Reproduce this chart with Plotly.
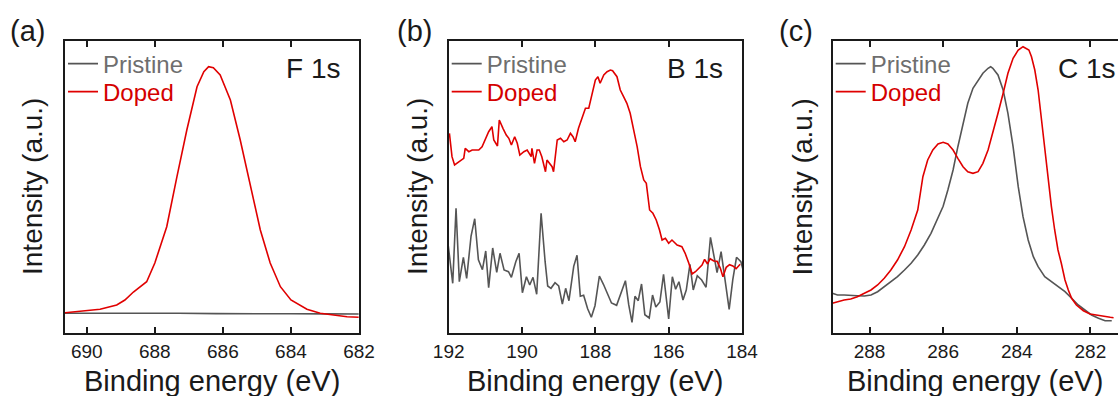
import plotly.graph_objects as go

# ---------------- data ----------------
# (a) F 1s
f1s_doped_e = [690.64, 690.0, 689.61, 689.12, 688.88, 688.63, 688.24, 688.0, 687.65, 687.35,
               687.06, 686.76, 686.56, 686.42, 686.28, 686.08, 685.78, 685.49, 685.19, 684.90,
               684.61, 684.31, 684.0, 683.53, 683.14, 682.75, 682.35, 682.01]
f1s_doped_i = [20.3, 22.0, 23.7, 28.0, 33.0, 41.0, 51.3, 70.0, 106.3, 156.3,
               203.0, 246.3, 261.3, 266.3, 265.3, 258.0, 233.0, 193.0, 146.3, 103.0,
               70.0, 46.3, 33.0, 23.7, 19.7, 18.0, 16.3, 15.7]
f1s_pristine_e = [690.64, 689.5, 688.4, 687.3, 686.2, 685.1, 684.0, 683.0, 682.01]
f1s_pristine_i = [19.7, 19.9, 19.5, 19.8, 19.4, 19.6, 19.2, 19.1, 19.0]

# (b) B 1s
b1s_doped_e = [191.98, 191.91, 191.84, 191.73, 191.59, 191.55, 191.45, 191.36, 191.27, 191.18,
               191.09, 191.0, 190.91, 190.82, 190.77, 190.67, 190.62, 190.52, 190.43, 190.36,
               190.29, 190.2, 190.13, 190.06, 189.95, 189.86, 189.75, 189.73, 189.66, 189.59,
               189.53, 189.46, 189.36, 189.32, 189.18, 189.14, 189.04, 188.95, 188.86, 188.77,
               188.68, 188.61, 188.55, 188.46, 188.36, 188.27, 188.18, 188.09, 188.0, 187.93,
               187.87, 187.77, 187.68, 187.59, 187.53, 187.41, 187.32, 187.23, 187.14, 187.05,
               186.95, 186.86, 186.77, 186.68, 186.61, 186.52, 186.43, 186.34, 186.25, 186.18,
               186.09, 186.0, 185.91, 185.77, 185.64, 185.55, 185.45, 185.36, 185.27, 185.18,
               185.09, 185.02, 184.94, 184.87, 184.77, 184.68, 184.59, 184.52, 184.43, 184.34,
               184.25, 184.16, 184.05]
b1s_doped_i = [199.7, 176.3, 168.0, 171.3, 174.7, 184.7, 181.3, 183.0, 183.0, 183.0,
               186.3, 193.0, 201.3, 206.3, 193.0, 187.0, 213.0, 204.7, 198.0, 194.7,
               188.0, 196.3, 189.7, 178.0, 181.3, 183.0, 176.3, 184.7, 169.7, 183.0,
               183.0, 176.3, 161.3, 173.0, 166.3, 161.3, 193.0, 194.7, 191.3, 193.0,
               199.7, 196.3, 191.3, 204.7, 216.3, 224.7, 224.7, 238.0, 253.0, 256.3,
               249.7, 258.0, 261.3, 263.0, 262.3, 256.3, 243.0, 236.3, 229.7, 219.7,
               203.0, 186.3, 166.3, 153.0, 149.7, 123.0, 119.7, 113.0, 103.0, 93.0,
               94.7, 89.7, 93.0, 88.0, 86.3, 79.7, 69.7, 59.0, 61.3, 64.7,
               68.0, 73.7, 69.0, 74.3, 72.0, 71.7, 64.7, 56.3, 65.7, 68.3,
               67.0, 64.3, 68.7]
b1s_pristine_e = [192.02, 191.89, 191.8, 191.71, 191.6, 191.51, 191.39, 191.29, 191.19, 191.08,
                  190.99, 190.91, 190.8, 190.69, 190.6, 190.49, 190.37, 190.29, 190.17, 190.08,
                  189.99, 189.88, 189.79, 189.7, 189.6, 189.48, 189.37, 189.3, 189.21, 189.1,
                  189.0, 188.9, 188.81, 188.72, 188.59, 188.5, 188.41, 188.32, 188.21, 188.11,
                  188.01, 187.89, 187.78, 187.67, 187.56, 187.42, 187.29, 187.18, 187.09, 187.0,
                  186.92, 186.83, 186.74, 186.65, 186.53, 186.44, 186.35, 186.24, 186.14, 186.0,
                  185.9, 185.81, 185.72, 185.61, 185.52, 185.42, 185.33, 185.22, 185.1, 184.98,
                  184.86, 184.68, 184.57, 184.46, 184.35, 184.25, 184.15, 184.03, 183.94, 183.86,
                  183.78]
b1s_pristine_i = [89.7, 49.7, 124.7, 51.3, 75.7, 54.7, 97.0, 114.3, 73.3, 63.3,
                  82.0, 45.3, 85.0, 60.7, 79.7, 63.0, 61.3, 55.7, 71.3, 79.7,
                  40.3, 56.3, 48.0, 55.7, 38.7, 119.7, 71.3, 47.0, 44.7, 50.3,
                  47.0, 29.0, 44.7, 32.3, 66.7, 77.7, 36.7, 37.7, 24.3, 15.7,
                  27.3, 57.0, 48.7, 40.0, 30.0, 27.7, 41.0, 52.3, 28.3, 10.7,
                  36.7, 32.3, 49.0, 18.3, 15.0, 38.0, 26.0, 31.0, 58.7, 14.0,
                  56.3, 43.7, 51.3, 33.0, 43.0, 68.7, 43.0, 57.3, 53.0, 45.7,
                  95.7, 60.3, 81.3, 49.7, 23.7, 53.7, 75.7, 71.3, 58.7, 59.3,
                  59.0]

# (c) C 1s
c1s_pristine_e = [289.01, 288.87, 288.69, 288.51, 288.33, 288.14, 287.96, 287.78, 287.60, 287.42,
                  287.24, 287.05, 286.87, 286.69, 286.51, 286.33, 286.14, 286.0, 285.87, 285.73,
                  285.60, 285.46, 285.33, 285.19, 285.05, 284.92, 284.78, 284.71, 284.65, 284.51,
                  284.37, 284.24, 284.10, 283.96, 283.83, 283.69, 283.55, 283.42, 283.24, 283.06,
                  282.88, 282.69, 282.51, 282.33, 282.15, 281.97, 281.78, 281.60, 281.42]
c1s_pristine_i = [39.7, 38.0, 38.0, 38.0, 37.3, 37.0, 38.0, 41.3, 46.3, 51.3,
                  56.3, 63.0, 69.7, 78.0, 88.0, 99.7, 116.3, 126.7, 143.3, 163.0,
                  186.3, 209.7, 229.7, 244.7, 253.0, 259.7, 264.7, 266.3, 264.7, 258.0,
                  243.0, 219.7, 186.3, 146.3, 116.3, 93.0, 76.3, 66.3, 56.3, 51.3,
                  46.3, 41.3, 34.7, 28.0, 23.0, 18.0, 14.7, 12.3, 12.3]
c1s_doped_e = [289.01, 288.87, 288.69, 288.51, 288.33, 288.14, 287.96, 287.78, 287.60, 287.42,
               287.24, 287.05, 286.87, 286.69, 286.55, 286.42, 286.28, 286.14, 286.0, 285.87,
               285.73, 285.60, 285.46, 285.33, 285.19, 285.05, 284.92, 284.78, 284.65, 284.51,
               284.37, 284.24, 284.10, 283.96, 283.83, 283.74, 283.67, 283.60, 283.51, 283.42,
               283.33, 283.24, 283.15, 283.06, 282.97, 282.88, 282.79, 282.69, 282.60, 282.51,
               282.38, 282.19, 282.01, 281.83, 281.65, 281.46, 281.37]
c1s_doped_i = [29.7, 31.3, 33.0, 34.0, 36.3, 39.7, 43.0, 48.0, 54.7, 63.0,
               73.0, 86.3, 103.0, 123.0, 156.3, 173.0, 183.0, 189.0, 190.7, 189.0,
               183.0, 174.7, 166.3, 161.3, 159.7, 161.3, 169.7, 183.0, 199.7, 219.7,
               239.7, 259.7, 274.7, 283.0, 286.3, 284.7, 283.0, 276.3, 263.0, 243.0,
               213.0, 183.0, 153.0, 126.7, 103.0, 83.0, 69.7, 53.0, 43.0, 34.7,
               28.0, 22.3, 19.0, 17.7, 16.7, 15.7, 15.3]

panel_labels = ["(a)", "(b)", "(c)"]
core_levels = ["F 1s", "B 1s", "C 1s"]
series_names = ["Pristine", "Doped"]
x_ranges = [[690.64, 682.0], [192.0, 184.0], [289.0, 281.25]]
tick_vals = [[690, 688, 686, 684, 682], [192, 190, 188, 186, 184], [288, 286, 284, 282]]
x_title = "Binding energy (eV)"
y_title = "Intensity (a.u.)"

# ---------------- styling ----------------
W, H = 1118, 396
FONT = "Arial, Liberation Sans, sans-serif"
GRAY, RED = "#555555", "#e00000"
GRAY_TXT, RED_TXT = "#6e6e6e", "#d40000"

boxes = [(65, 359), (448.7, 742), (832.7, 1118)]
top_px, bot_px = 41, 333
ydom = [(H - bot_px) / H, (H - top_px) / H]

fig = go.Figure()

data = [
    (f1s_pristine_e, f1s_pristine_i, f1s_doped_e, f1s_doped_i),
    (b1s_pristine_e, b1s_pristine_i, b1s_doped_e, b1s_doped_i),
    (c1s_pristine_e, c1s_pristine_i, c1s_doped_e, c1s_doped_i),
]

layout = dict(
    width=W, height=H,
    margin=dict(l=0, r=0, t=0, b=0, autoexpand=False),
    paper_bgcolor="white", plot_bgcolor="white",
    font=dict(family=FONT, color="#1a1a1a"),
    showlegend=True,
)

annotations = []
for k, (pe, pi, de, di) in enumerate(data):
    sfx = "" if k == 0 else str(k + 1)
    xa, ya = "x" + sfx, "y" + sfx
    l, r = boxes[k]
    # one legend per legend entry so the rows can be placed like the reference
    leg_p = "legend" if k == 0 else f"legend{2 * k + 1}"
    leg_d = f"legend{2 * k + 2}"
    fig.add_trace(go.Scatter(
        x=pe, y=pi, mode="lines", xaxis=xa, yaxis=ya, legend=leg_p,
        line=dict(color=GRAY, width=1.6),
        name=f"<span style='color:{GRAY_TXT}'>{series_names[0]}</span>"))
    fig.add_trace(go.Scatter(
        x=de, y=di, mode="lines", xaxis=xa, yaxis=ya, legend=leg_d,
        line=dict(color=RED, width=1.6),
        name=f"<span style='color:{RED_TXT}'>{series_names[1]}</span>"))

    layout[f"xaxis{sfx}"] = dict(
        domain=[l / W, min(r / W, 1.0)], range=x_ranges[k], anchor=ya,
        tickvals=tick_vals[k], ticks="inside", ticklen=6, tickwidth=2, tickcolor="#1a1a1a",
        showline=True, linecolor="#1a1a1a", linewidth=2, mirror="ticks",
        showgrid=False, zeroline=False, automargin=False,
        tickfont=dict(size=19, family=FONT, color="#1a1a1a"),
    )
    layout[f"yaxis{sfx}"] = dict(
        domain=ydom, range=[0, 292], anchor=xa,
        showticklabels=False, ticks="", showgrid=False, zeroline=False, automargin=False,
        showline=True, linecolor="#1a1a1a", linewidth=2, mirror=(k < 2),
    )
    for leg, ypx in ((leg_p, 64), (leg_d, 92)):
        layout[leg] = dict(
            x=(l - 2) / W, y=(H - ypx) / H, xanchor="left", yanchor="middle",
            bgcolor="rgba(0,0,0,0)", borderwidth=0,
            font=dict(size=24, family=FONT), tracegroupgap=0, itemwidth=30,
        )
    xc = (l + r) / 2 if k < 2 else (l + 1118) / 2
    annotations.append(dict(
        text=x_title, xref="paper", yref="paper", x=xc / W,
        y=(H - 381) / H, xanchor="center", yanchor="middle", showarrow=False,
        font=dict(size=29, family=FONT, color="#1a1a1a")))
    ycx = [32, 417, 801.5][k]
    annotations.append(dict(
        text=y_title, xref="paper", yref="paper", x=ycx / W, y=(H - 187) / H,
        xanchor="center", yanchor="middle", textangle=-90, showarrow=False,
        font=dict(size=28, family=FONT, color="#1a1a1a")))
    plx = [27, 414, 795.5][k]
    annotations.append(dict(
        text=panel_labels[k], xref="paper", yref="paper", x=plx / W, y=(H - 31) / H,
        xanchor="center", yanchor="middle", showarrow=False,
        font=dict(size=29, family=FONT, color="#1a1a1a")))
    crx = [342, 725, 1118][k]
    annotations.append(dict(
        text=core_levels[k], xref="paper", yref="paper", x=crx / W, y=(H - 69) / H,
        xanchor="right", yanchor="middle", showarrow=False,
        font=dict(size=28, family=FONT, color="#1a1a1a")))

layout["annotations"] = annotations
fig.update_layout(**layout)
fig.write_html("out.html")
